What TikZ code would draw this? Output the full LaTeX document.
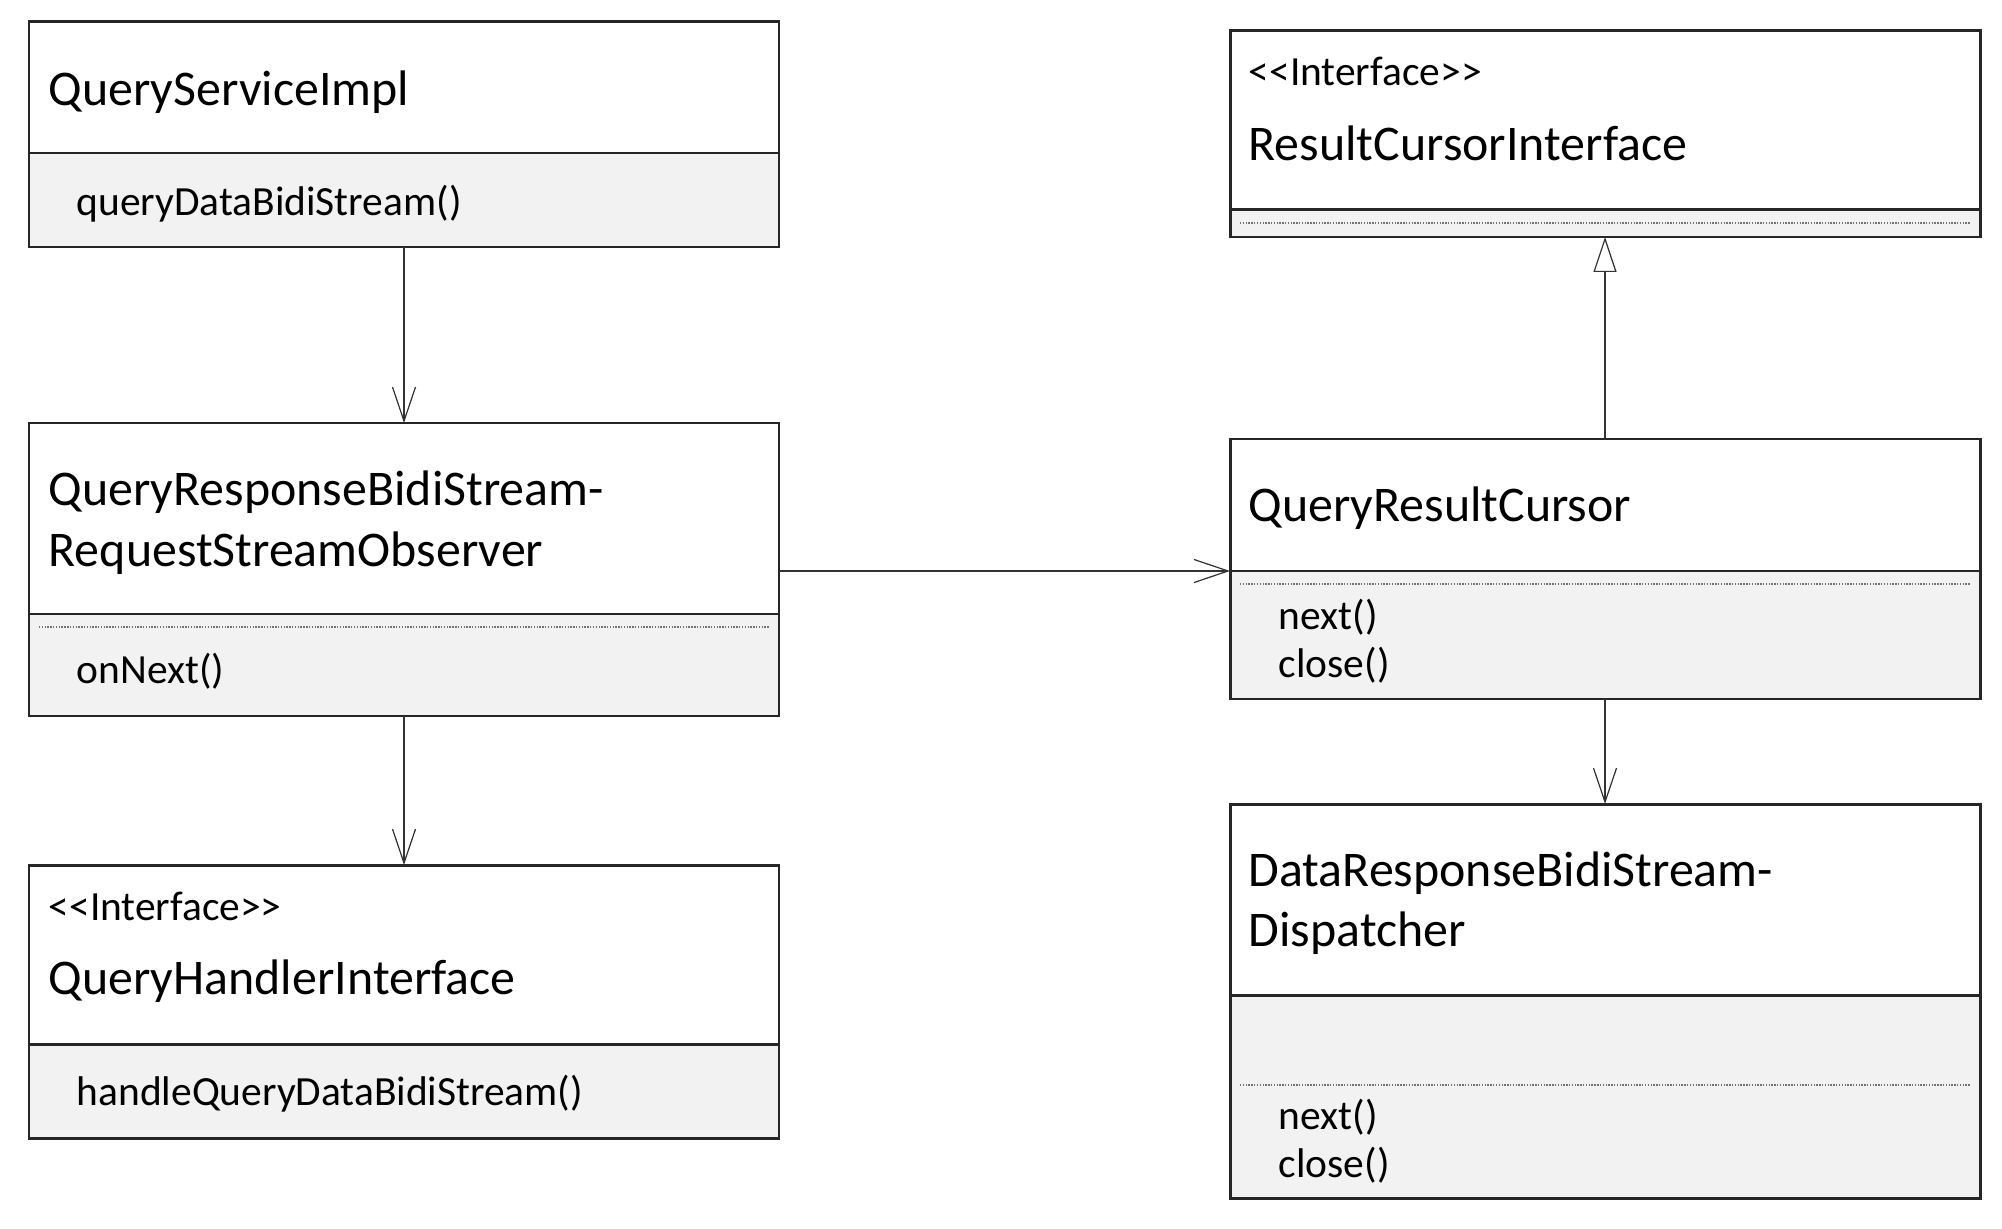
\documentclass[tikz,border=0pt]{standalone}
\usepackage{fontspec}
\setmainfont{Carlito}
\usetikzlibrary{arrows.meta}
\definecolor{opgray}{HTML}{F2F2F2}
\tikzset{
  cls/.style={draw=black!85,line width=0.85pt,rectangle,inner sep=0pt,outer sep=0pt,anchor=north west,minimum width=75mm},
  ops/.style={cls,fill=opgray},
  ctitle/.style={anchor=base west,inner sep=0pt,font=\fontsize{14.2}{16.9}\selectfont},
  stereo/.style={anchor=base west,inner sep=0pt,font=\fontsize{11.8}{13.6}\selectfont},
  op/.style={stereo},
  sep/.style={draw=black!55,line width=0.3pt,dash pattern=on 0.4pt off 0.4pt},
  assoc/.style={draw=black!80,line width=0.35pt,-{Straight Barb[length=3.4mm,width=2.3mm]}},
  realize/.style={draw=black!80,line width=0.35pt,-{Triangle[open,length=3.5mm,width=2.3mm,fill=white]}}
}
\begin{document}
\begin{tikzpicture}[x=0.1mm,y=-0.1mm]
\useasboundingbox (0,0) rectangle (2002,1229);
% left column
\node[cls,minimum height=13.1mm] (svc) at (29,22) {};
\node[ops,minimum height=9.4mm] (svcm) at (29,153) {};
\node[ctitle] (svct) at (48,106) {QueryServiceImpl};
\node[op] (svco) at (76,216) {queryDataBidiStream()};

\node[cls,minimum height=19.1mm] (obs) at (29,423) {};
\node[ops,minimum height=10.2mm] (obsm) at (29,614) {};
\draw[sep] (39,627) -- (769,627);
\node[ctitle] (obst1) at (48,506) {QueryResponseBidiStream-};
\node[ctitle] (obst2) at (48,566) {RequestStreamObserver};
\node[op] (obso) at (76,683) {onNext()};

\node[cls,minimum height=17.9mm] (hdl) at (29,865) {};
\node[ops,minimum height=9.4mm] (hdlm) at (29,1044) {};
\node[stereo] (hdls) at (48,920) {<{}<Interface>{}>};
\node[ctitle] (hdlt) at (48,994) {QueryHandlerInterface};
\node[op] (hdlo) at (76,1105) {handleQueryDataBidiStream()};

% right column
\node[cls,minimum height=17.85mm] (rci) at (1230,31) {};
\node[ops,minimum height=2.75mm] (rcim) at (1230,209.5) {};
\draw[sep] (1240,223) -- (1970,223);
\node[stereo] (rcis) at (1248,86) {<{}<Interface>{}>};
\node[ctitle] (rcit) at (1248,161) {ResultCursorInterface};

\node[cls,minimum height=13.2mm] (qrc) at (1230,439) {};
\node[ops,minimum height=12.8mm] (qrcm) at (1230,571) {};
\draw[sep] (1240,584) -- (1970,584);
\node[ctitle] (qrct) at (1248,521) {QueryResultCursor};
\node[op] (qrco1) at (1278,629) {next()};
\node[op] (qrco2) at (1278,677) {close()};

\node[cls,minimum height=19.1mm] (drd) at (1230,804) {};
\node[ops,minimum height=20.3mm] (drdm) at (1230,995) {};
\draw[sep] (1240,1085) -- (1970,1085);
\node[ctitle] (drdt1) at (1248,886) {DataResponseBidiStream-};
\node[ctitle] (drdt2) at (1248,946) {Dispatcher};
\node[op] (drdo1) at (1278,1129) {next()};
\node[op] (drdo2) at (1278,1177) {close()};

% connectors
\draw[assoc] (svcm.south) -- (obs.north);
\draw[assoc] (obsm.south) -- (hdl.north);
\draw[assoc] (obs.east |- qrc.south) -- (qrc.south west);
\draw[realize] (qrc.north) -- (rcim.south);
\draw[assoc] (qrcm.south) -- (drd.north);
\end{tikzpicture}
\end{document}
